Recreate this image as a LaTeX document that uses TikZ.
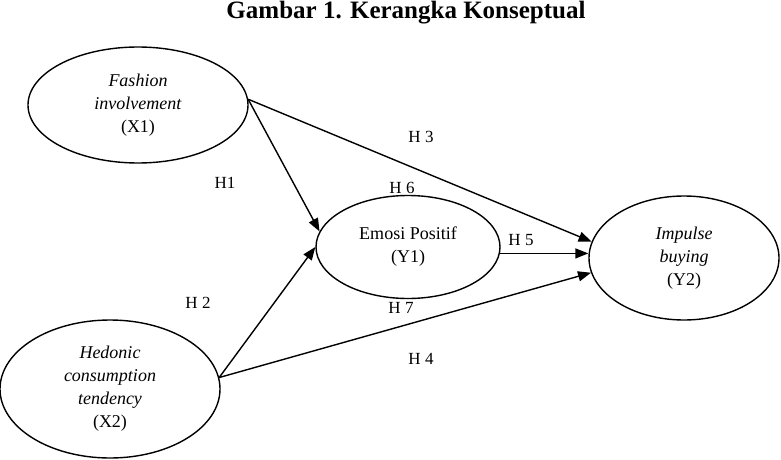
\documentclass[tikz,border=0pt]{standalone}
\usepackage{fontspec}
\setmainfont{Liberation Serif}
\usetikzlibrary{shapes.geometric,arrows.meta}
\begin{document}
\begin{tikzpicture}[x=1pt,y=-1pt,
  var/.style={ellipse,draw,line width=1.4pt,inner sep=0pt,align=center,font=\fontsize{18}{23}\selectfont},
  arr/.style={line width=1.4pt,-{Triangle[length=13pt,width=10pt]}},
  hyp/.style={font=\fontsize{17}{20}\selectfont,inner sep=0pt}]
\useasboundingbox (0,0) rectangle (781,460);
\node[font=\fontsize{25}{30}\selectfont\bfseries] (title) at (406,13) {Gambar 1. Kerangka Konseptual};
\node[var,minimum width=220pt,minimum height=116pt] (x1) at (138,105) {\textit{Fashion}\\\textit{involvement}\\(X1)};
\node[var,minimum width=184pt,minimum height=103pt] (y1) at (408,247) {Emosi Positif\\(Y1)};
\node[var,minimum width=190pt,minimum height=124pt] (y2) at (684,258) {\textit{Impulse}\\\textit{buying}\\(Y2)};
\node[var,minimum width=220pt,minimum height=138pt] (x2) at (110,389) {\textit{Hedonic}\\\textit{consumption}\\\textit{tendency}\\(X2)};
\draw[arr] (x1.3) -- (y1.170);
\draw[arr] (x1.3) -- (y2.170);
\draw[arr] (x2.6) -- (y1.west);
\draw[arr] (x2.6) -- (y2.189);
\draw[arr] (y1.-4) -- (y1.-4 -| y2.west);
\node[hyp] (h3) at (421,137) {H 3};
\node[hyp] (h1) at (225,183) {H1};
\node[hyp] (h6) at (402,188) {H 6};
\node[hyp] (h5) at (521,240) {H 5};
\node[hyp] (h2) at (198,303) {H 2};
\node[hyp] (h7) at (401,308) {H 7};
\node[hyp] (h4) at (421,359) {H 4};
\end{tikzpicture}
\end{document}
